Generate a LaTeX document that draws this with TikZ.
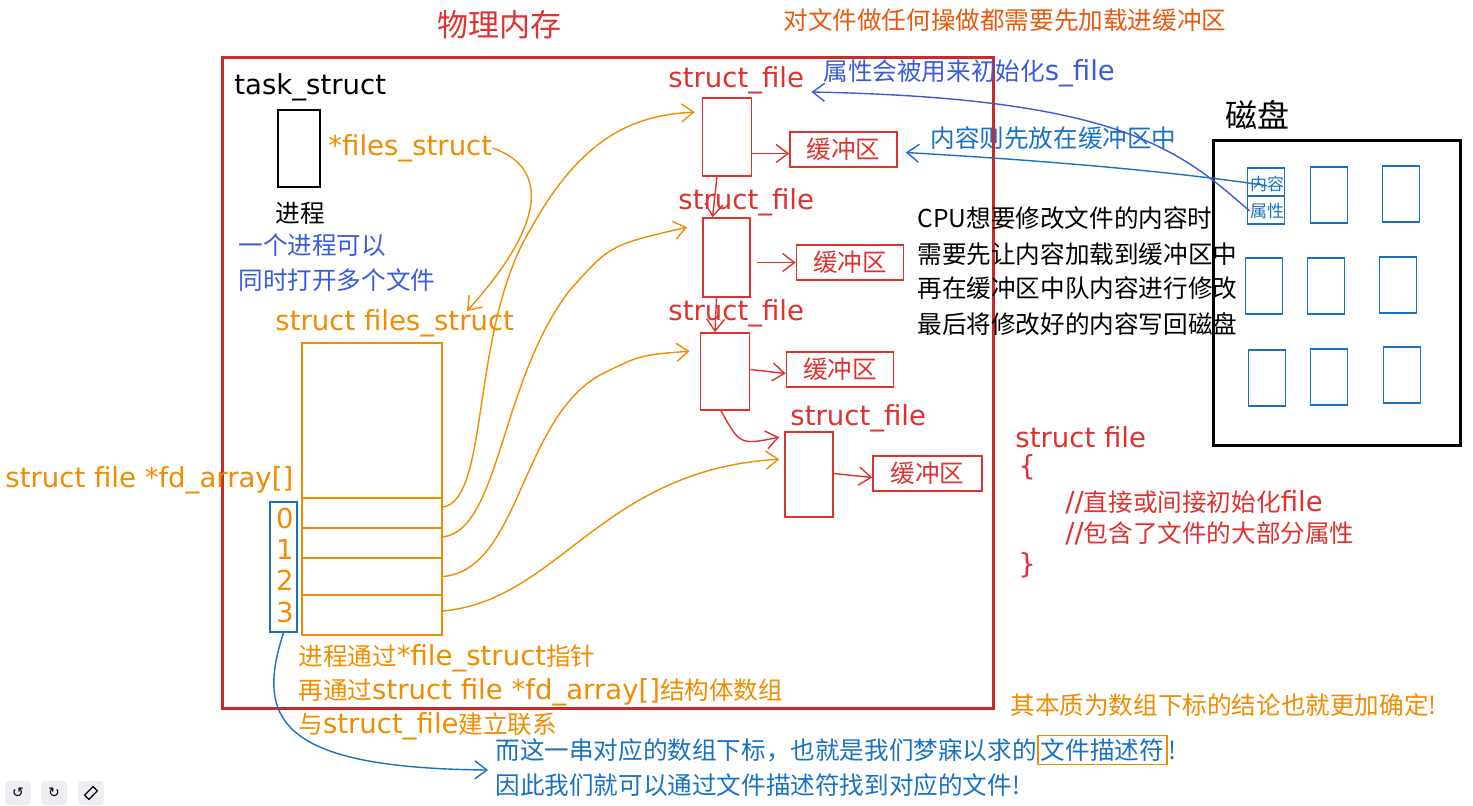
\documentclass[tikz,border=0pt]{standalone}
\usepackage{fontspec}
\setmainfont{Noto Sans CJK SC}
\newfontfamily\symfont{DejaVu Sans}
\newfontfamily\lat{DejaVu Sans}[Scale=1.12]
\usetikzlibrary{arrows.meta}
\definecolor{xred}{HTML}{E03131}
\definecolor{xdred}{HTML}{C92A2A}
\definecolor{xorange}{HTML}{F08C00}
\definecolor{xorred}{HTML}{E8590C}
\definecolor{xblue}{HTML}{1971C2}
\definecolor{xindigo}{HTML}{3B5BDB}
\definecolor{xgray}{HTML}{ECEEF1}
\begin{document}
\begin{tikzpicture}[x=0.5pt,y=-0.5pt,
  txt/.style={anchor=west,inner sep=0pt,font=\fontsize{12.3}{14}\selectfont},
  big/.style={anchor=west,inner sep=0pt,font=\fontsize{15.5}{18}\selectfont},
  arr/.style={-{Straight Barb[length=6pt,width=9pt]}, line width=0.7pt},
  rbox/.style={draw=xred,line width=0.8pt,inner sep=0pt},
  bufbox/.style={rbox,minimum width=53.5pt,minimum height=17.5pt,font=\fontsize{12.3}{14}\selectfont,text=xred},
  sfbox/.style={rbox,minimum width=24.5pt,minimum height=39pt},
  obox/.style={draw=xorange,line width=0.8pt,inner sep=0pt,minimum width=70pt},
  dbox/.style={draw=xblue,line width=0.8pt,inner sep=0pt,minimum width=18.5pt,minimum height=28pt},
  tool/.style={fill=xgray,rounded corners=2pt,minimum width=13pt,minimum height=12pt,inner sep=0pt,font=\symfont\fontsize{7}{8}\selectfont},
]
\useasboundingbox (0,0) rectangle (1473,805);

% titles
\node[big,text=xred] (title) at (437,25) {物理内存};
\node[txt,text=xorred] (top) at (783,20) {对文件做任何操做都需要先加载进缓冲区};

% memory frame
\node[draw=xdred,line width=1.5pt,minimum width=385.5pt,minimum height=325.5pt,inner sep=0pt] (mem) at (607.5,382.5) {};

% process
\node[txt] (ts) at (234,87) {\lat task\_struct};
\node[draw=black,line width=0.8pt,minimum width=21pt,minimum height=38.5pt,inner sep=0pt] (task) at (299,148.5) {};
\node[txt,text=xorange] (fsptr) at (328,148) {\lat *files\_struct};
\node[txt] (jc) at (275,213) {进程};
\node[txt,text=xindigo] (n1) at (238,245) {一个进程可以};
\node[txt,text=xindigo] (n2) at (238,280) {同时打开多个文件};

% files_struct
\node[txt,text=xorange] (fslabel) at (275,323) {\lat struct files\_struct};
\node[obox,minimum height=146pt] (fs) at (372,489) {};
\node[obox,minimum height=15pt] (r0) at (372,513) {};
\node[obox,minimum height=15pt] (r1) at (372,543) {};
\node[obox,minimum height=18.5pt] (r2) at (372,576.5) {};
\node[obox,minimum height=20pt] (r3) at (372,615) {};
\node[txt,text=xorange] (fdl) at (5,480) {\lat struct file *fd\_array[]};
\node[draw=xblue,line width=0.8pt,minimum width=13.5pt,minimum height=65pt,inner sep=0pt] (fd) at (283.5,567) {};
\node[txt,anchor=center,text=xorange] (i0) at (285,518) {\lat 0};
\node[txt,anchor=center,text=xorange] (i1) at (285,549) {\lat 1};
\node[txt,anchor=center,text=xorange] (i2) at (285,580) {\lat 2};
\node[txt,anchor=center,text=xorange] (i3) at (285,612) {\lat 3};

\draw[arr,xorange] (fsptr.east) .. controls (550,168) and (545,225) .. ([shift={(192,2)}]fslabel.north west);

% struct_file boxes
\node[txt,text=xred] (lA) at (668,80) {\lat struct\_file};
\node[sfbox] (sfA) at (727,137) {};
\node[bufbox] (bufA) at (843.5,149.5) {缓冲区};
\node[txt,text=xred] (lB) at (678,202) {\lat struct\_file};
\node[sfbox,minimum width=23.5pt,minimum height=39.5pt] (sfB) at (726.5,257.5) {};
\node[bufbox] (bufB) at (850,262.5) {缓冲区};
\node[txt,text=xred] (lC) at (668,313) {\lat struct\_file};
\node[sfbox,minimum height=38.5pt] (sfC) at (725,371.5) {};
\node[bufbox] (bufC) at (840,369.5) {缓冲区};
\node[txt,text=xred] (lD) at (790,418) {\lat struct\_file};
\node[sfbox,minimum width=24pt,minimum height=42.5pt] (sfD) at (809,474.5) {};
\node[bufbox,minimum width=54.5pt] (bufD) at (927.5,473.5) {缓冲区};

\draw[arr,xred] ([yshift=-2pt]sfA.east |- bufA.west) -- ([yshift=-2pt]bufA.west);
\draw[arr,xred] ([xshift=3pt]sfB.east |- bufB.west) -- (bufB.west);
\draw[arr,xred] (sfC.east |- bufC.west) -- ([yshift=-2pt]bufC.west);
\draw[arr,xred] (sfD.east |- bufD.west) -- ([yshift=-2pt]bufD.west);
\draw[arr,xred] ([xshift=-5pt]sfA.south) -- ([xshift=-7pt]sfB.north);
\draw[arr,xred] ([xshift=-5pt]sfB.south) -- ([xshift=-5pt]sfC.north);
\draw[arr,xred] ([xshift=-2pt]sfC.south) .. controls (740,445) .. ([shift={(-5,6)}]sfD.north west);

% orange pointers
\draw[arr,xorange] ([yshift=3pt]r0.east) .. controls (490,500) and (470,330) .. (530,230) .. controls (580,140) and (630,115) .. ([shift={(-7,15)}]sfA.north west);
\draw[arr,xorange] ([yshift=3pt]r1.east) .. controls (500,530) and (500,380) .. (570,290) .. controls (610,245) .. ([shift={(-15,10)}]sfB.north west);
\draw[arr,xorange] (r2.east) .. controls (520,570) and (520,420) .. (600,375) .. controls (640,355) .. ([shift={(-10,19)}]sfC.north west);
\draw[arr,xorange] ([yshift=2pt]r3.east) .. controls (560,600) and (600,470) .. ([shift={(-5,28)}]sfD.north west);

% disk
\node[big,text=black,font=\fontsize{16}{18}\selectfont] (disklabel) at (1225,115) {磁盘};
\node[draw=black,line width=1.5pt,minimum width=123.5pt,minimum height=152.5pt,inner sep=0pt] (disk) at (1336.5,292.5) {};
\node[dbox] (d11) at (1266,196) {};
\node[dbox] (d12) at (1329,195) {};
\node[dbox] (d13) at (1401,194) {};
\node[dbox] (d21) at (1264,286) {};
\node[dbox] (d22) at (1326,286) {};
\node[dbox] (d23) at (1398,285) {};
\node[dbox] (d31) at (1267,378) {};
\node[dbox] (d32) at (1329,377) {};
\node[dbox] (d33) at (1402,375) {};
\draw[xblue,line width=0.8pt] (d11.west) -- (d11.east);
\node[inner sep=0pt,text=xblue,font=\fontsize{8.5}{9}\selectfont] (nr) at (1267,184) {内容};
\node[inner sep=0pt,text=xblue,font=\fontsize{8.5}{9}\selectfont] (sx) at (1267,211) {属性};

% blue arrows from disk
\node[txt,text=xindigo] (attr) at (823,73) {属性会被用来初始化{\lat s\_file}};
\node[txt,text=xblue] (cont) at (930,138) {内容则先放在缓冲区中};
\draw[arr,xindigo] (sx.west) .. controls (1180,150) and (1120,98) .. ([shift={(7,12)}]lA.east);
\draw[arr,xblue] ([yshift=-5pt]nr.north) .. controls (1150,168) and (1000,158) .. ([shift={(8,3)}]bufA.east);

% CPU text
\node[txt] (c1) at (917,218) {CPU想要修改文件的内容时};
\node[txt] (c2) at (917,254) {需要先让内容加载到缓冲区中};
\node[txt] (c3) at (917,288) {再在缓冲区中队内容进行修改};
\node[txt] (c4) at (917,324) {最后将修改好的内容写回磁盘};

% struct file definition
\node[txt,text=xred] (sf1) at (1015,437) {\lat struct file};
\node[txt,text=xred] (sf2) at (1018,467) {\lat \{};
\node[txt,text=xred] (sf3) at (1065,502) {{\lat //}直接或间接初始化{\lat file}};
\node[txt,text=xred] (sf4) at (1065,533) {{\lat //}包含了文件的大部分属性};
\node[txt,text=xred] (sf5) at (1018,565) {\lat \}};

\node[txt,text=xorange] (concl) at (1010,705) {其本质为数组下标的结论也就更加确定!};

% bottom explanation
\node[txt,text=xorange] (o1) at (298,658) {进程通过{\lat *file\_struct}指针};
\node[txt,text=xorange] (o2) at (298,692) {再通过{\lat struct file *fd\_array[]}结构体数组};
\node[txt,text=xorange] (o3) at (298,726) {与{\lat struct\_file}建立联系};
\node[txt,text=xblue] (b1) at (495,750) {而这一串对应的数组下标，也就是我们梦寐以求的};
\node[txt,text=xblue,draw=xorange,line width=0.8pt,inner sep=1.5pt,anchor=west] (b2) at (b1.east) {文件描述符};
\node[txt,text=xblue,anchor=west] (b3) at (b2.east) {!};
\node[txt,text=xblue] (b4) at (495,785) {因此我们就可以通过文件描述符找到对应的文件!};
\coordinate (fdEnd) at (488,770);
\draw[arr,xblue] (fd.south) .. controls (255,720) and (280,768) .. (fdEnd);

% toolbar
\node[tool] (t1) at (18,793) {↺};
\node[tool] (t2) at (54,793) {↻};
\node[tool] (t3) at (91,793) {};
\draw[black,line width=0.6pt,rotate around={45:(t3.center)}] ([shift={(-6,-3)}]t3.center) rectangle ([shift={(6,3)}]t3.center);
\end{tikzpicture}
\end{document}
